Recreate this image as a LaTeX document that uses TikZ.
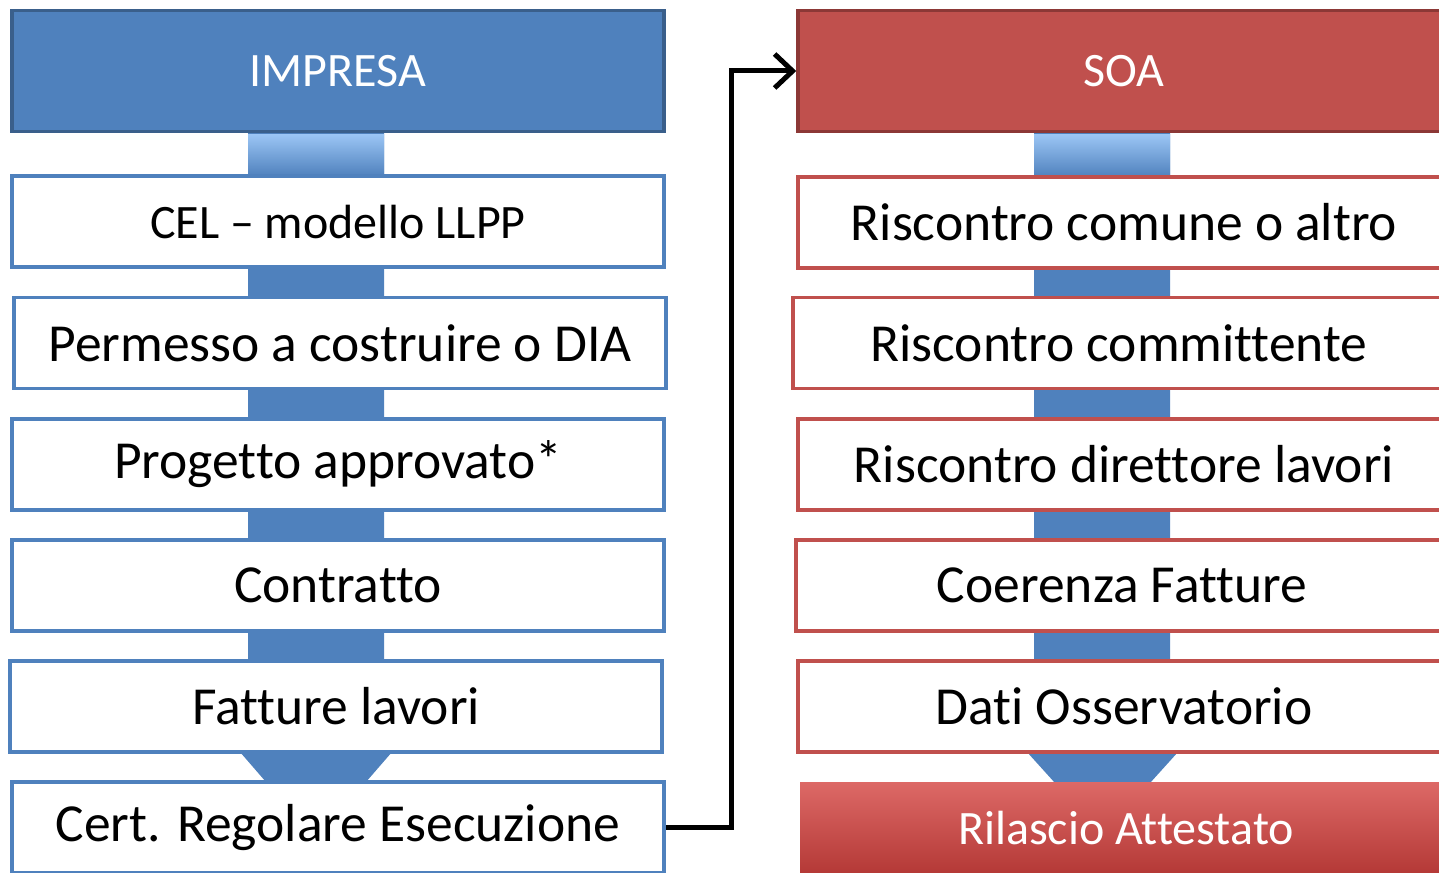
\documentclass[tikz,border=0pt]{standalone}
\usepackage{fontspec}
\setmainfont{Carlito}[Ligatures=NoCommon]
\usepackage{tikz}
\usetikzlibrary{arrows.meta, positioning, calc}

\begin{document}
\begin{tikzpicture}[x=1pt, y=-1pt,
    box/.style={rectangle, draw, line width=3.5pt, fill=white, minimum width=652pt, minimum height=91pt, text centered, font=\fontsize{53.5}{60}\selectfont},
    lbox/.style={box, draw=impblue},
    rbox/.style={box, draw=soared},
    head/.style={rectangle, draw, line width=3.5pt, minimum width=652pt, minimum height=121pt, text=white, font=\fontsize{48}{56}\selectfont},
    arrow/.style={-{Straight Barb[length=18pt, width=34pt, line width=5pt]}, line width=5pt}]

    % Define colors
    \definecolor{impblue}{HTML}{4F81BD}
    \definecolor{impdark}{HTML}{3A5F8B}
    \definecolor{spine}{HTML}{4F81BD}
    \definecolor{spinetop}{HTML}{9CC6F5}
    \definecolor{soared}{HTML}{C0504D}
    \definecolor{soadark}{HTML}{8C3836}
    \definecolor{relred}{HTML}{D44340}

    \useasboundingbox (0,0) rectangle (1439,872);
    \clip (0,0) rectangle (1439,872);

    % Spines behind the boxes
    \fill[spine] (248,132) -- (384,132) -- (384,752) -- (392,752) -- (366,782)
        -- (266,782) -- (240,752) -- (248,752) -- cycle;
    \shade[top color=spinetop, bottom color=spine] (248,134) rectangle (384,176);
    \fill[spine] (1034,132) -- (1170,132) -- (1170,752) -- (1178,752) -- (1150,783)
        -- (1055,783) -- (1027,752) -- (1034,752) -- cycle;
    \shade[top color=spinetop, bottom color=spine] (1034,134) rectangle (1170,177);

    % Nodes - impresa
    \node[head, fill=impblue, draw=impdark] (impresa) at (338,71) {IMPRESA};
    \node[lbox, font=\fontsize{48}{56}\selectfont] (cel) at (338,221.5) {CEL -- modello LLPP};
    \node[lbox] (permesso) at (340,343) {Permesso a costruire o DIA};
    \node[lbox] (progetto) at (338,464.5) {Progetto approvato*};
    \node[lbox] (contratto) at (338,585.5) {Contratto};
    \node[lbox] (fatture) at (336,706.5) {Fatture lavori};
    \node[lbox] (cert) at (338,827.5) {Cert. Regolare Esecuzione};

    % Nodes - soa
    \node[head, fill=soared, draw=soadark] (soa) at (1124,71) {SOA};
    \node[rbox] (comune) at (1124,222.5) {Riscontro comune o altro};
    \node[rbox] (committente) at (1119,343) {Riscontro committente};
    \node[rbox] (direttore) at (1124,464.5) {Riscontro direttore lavori};
    \node[rbox] (coerenza) at (1122,585.5) {Coerenza Fatture};
    \node[rbox] (dati) at (1124,706.5) {Dati Osservatorio};
    \node[rbox, draw=none, top color=relred!80!white, bottom color=relred!85!black, text=white, font=\fontsize{48}{56}\selectfont] (rilascio) at (1126,828) {Rilascio Attestato};

    % Connector cert -> soa
    \coordinate (elbow) at (731,0);
    \draw[arrow] (cert.east) -- (cert.east -| elbow) |- (soa.west);

\end{tikzpicture}
\end{document}
